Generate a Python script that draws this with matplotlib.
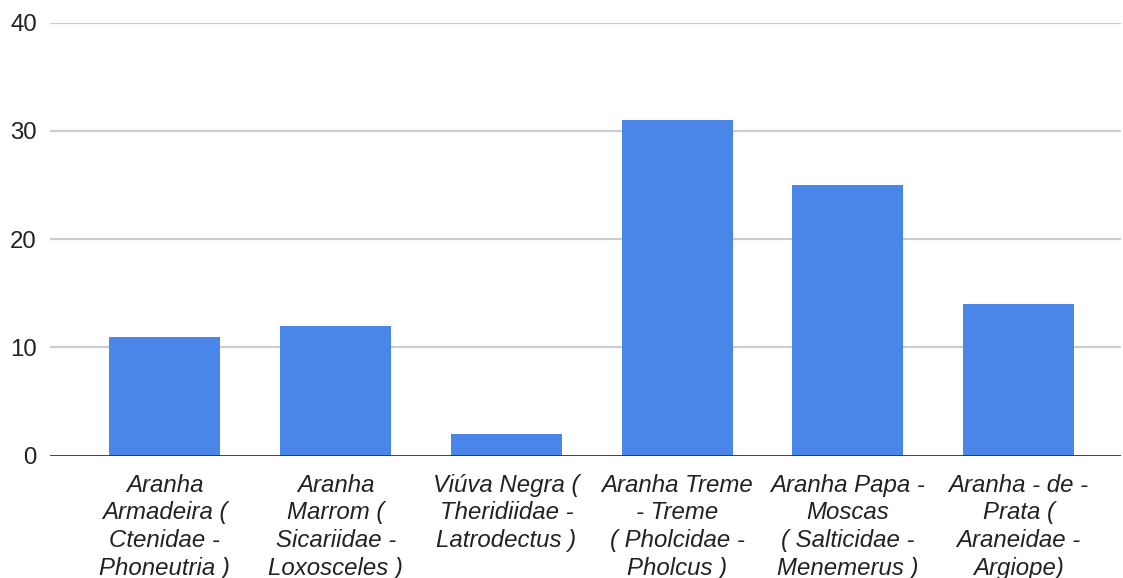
import matplotlib
matplotlib.use("Agg")
import matplotlib.pyplot as plt

categories = [
    "Aranha Armadeira ( Ctenidae - Phoneutria )",
    "Aranha Marrom ( Sicariidae - Loxosceles )",
    "Viúva Negra ( Theridiidae - Latrodectus )",
    "Aranha Treme - Treme ( Pholcidae - Pholcus )",
    "Aranha Papa - Moscas ( Salticidae - Menemerus )",
    "Aranha - de - Prata ( Araneidae - Argiope)",
]
tick_labels = [
    "Aranha\nArmadeira (\nCtenidae -\nPhoneutria )",
    "Aranha\nMarrom (\nSicariidae -\nLoxosceles )",
    "Viúva Negra (\nTheridiidae -\nLatrodectus )",
    "Aranha Treme\n- Treme\n( Pholcidae -\nPholcus )",
    "Aranha Papa -\nMoscas\n( Salticidae -\nMenemerus )",
    "Aranha - de -\nPrata (\nAraneidae -\nArgiope)",
]
values = [11, 12, 2, 31, 25, 14]
y_ticks = [0, 10, 20, 30, 40]

plt.rcParams["font.family"] = ["Liberation Sans", "DejaVu Sans"]

fig = plt.figure(figsize=(11.23, 5.78), dpi=100)
ax = fig.add_axes([50 / 1123, 1 - 455.7 / 578, 1071 / 1123, (455.7 - 22.7) / 578])

x = list(range(len(categories)))
ax.bar(x, values, width=0.65, color="#4a86e8", zorder=3)

ax.set_ylim(0, 40)
ax.set_xlim(-0.673, 5.6)
ax.set_yticks(y_ticks)
ax.set_yticklabels([str(t) for t in y_ticks], fontsize=17.3, color="#222222")
ax.set_xticks(x)
ax.set_xticklabels(tick_labels, fontsize=17.3, style="italic", color="#222222",
                   linespacing=1.26)
ax.tick_params(axis="both", length=0)
ax.tick_params(axis="y", pad=9.5)
ax.tick_params(axis="x", pad=13)

for t in y_ticks[1:]:
    ax.axhline(t, color="#cccccc", linewidth=1.6, zorder=1)
ax.axhline(0, color="#333333", linewidth=2.0, zorder=4)

for s in ax.spines.values():
    s.set_visible(False)

fig.savefig("out.png", dpi=100, facecolor="white")
